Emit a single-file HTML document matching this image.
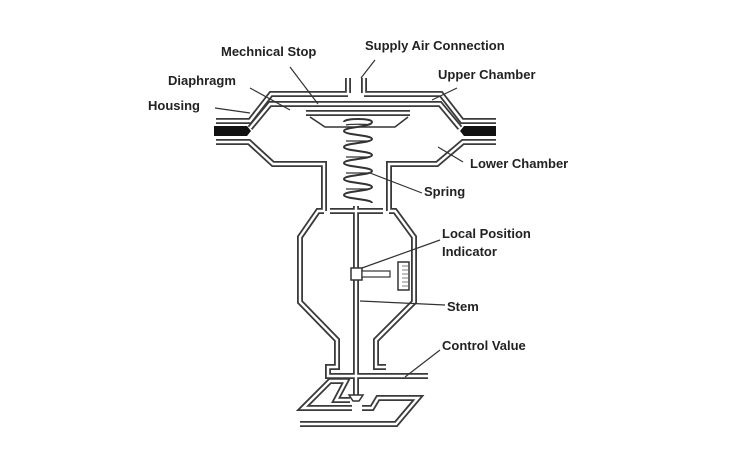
<!DOCTYPE html>
<html><head><style>
html,body{margin:0;padding:0;background:#fff;width:740px;height:455px;overflow:hidden}
svg{display:block}
text{font-family:"Liberation Sans",Arial,sans-serif;font-weight:bold;font-size:13px;fill:#222}
.d{fill:none;stroke:#3a3a3a;stroke-width:6;stroke-linejoin:miter}
.w{fill:none;stroke:#fff;stroke-width:2.4;stroke-linejoin:miter}
.l{fill:none;stroke:#333;stroke-width:1.2}
</style></head><body>
<svg width="740" height="455" viewBox="0 0 740 455">
<defs>
<g id="body">
 <path d="M348,78 V93 M364,78 V93"/>
 <path d="M216,121 H250 L271,94 H348 M364,94 H441 L462,121 H496"/>
 <path d="M250,128 L270,104 H440 L460,128"/>
 <path d="M216,142 H249 L273,164 H324 V211 M496,142 H463 L437,164 H389 V211"/>
 <path d="M324,211 H318 L300,237 V302 L337,340 V367 H328 V376 H428"/>
 <path d="M389,211 H395 L414,237 V302 L376,340 V367 H386"/>
 <path d="M330,211 H383"/>
 <path d="M306,113 H410"/>
 <path d="M350,400 H336 L346,381 H330 L303,408 H352"/>
 <path d="M362,408 H372 L378,398 H418 L396,424 H300"/>
 <path d="M356,206 V395"/>
</g>
</defs>
<use href="#body" class="d"/>
<use href="#body" class="w"/>
<path d="M214,126 H247 L251,131 L247,136 H214 Z" fill="#111"/>
<path d="M496,126 H464 L460,131 L464,136 H496 Z" fill="#111"/>
<path d="M310,117 L325,127 H395 L408,117" fill="none" stroke="#333" stroke-width="1.5"/>
<path d="M349,395 H363 L359,401 H353 Z" fill="#fff" stroke="#333" stroke-width="1.5"/>
<g fill="none" stroke="#333" stroke-width="2">
<path d="M344,122 C344,118 372,118 372,122 C372,127 344,127 344,131 C344,135 372,135 372,139 C372,143 344,143 344,147 C344,151 372,151 372,155 C372,159 344,159 344,163 C344,167 372,167 372,171 C372,175 344,175 344,179 C344,183 372,183 372,187 C372,191 344,191 344,195 C344,199 372,199 372,203"/>
<path d="M346,125 C350,124 368,124 370,125 M346,141 H370 M346,157 H370 M346,173 H370 M346,189 H370" stroke-width="1.2"/>
</g>
<rect x="351" y="268" width="11" height="12" fill="#fff" stroke="#333" stroke-width="1.5"/>
<rect x="362" y="271" width="28" height="6" fill="#fff" stroke="#333" stroke-width="1.2"/>
<rect x="398" y="262" width="11" height="28" fill="#fff" stroke="#333" stroke-width="1.5"/>
<path d="M402,266 H408 M402,270 H408 M402,274 H408 M402,278 H408 M402,282 H408 M402,286 H408" stroke="#555" stroke-width="0.8"/>
<g class="l">
<path d="M290,67 L318,104"/>
<path d="M375,60 L361,78"/>
<path d="M250,88 L290,110"/>
<path d="M215,108 L250,113"/>
<path d="M457,88 L432,100"/>
<path d="M463,162 L438,147"/>
<path d="M422,193 L370,173"/>
<path d="M440,240 L362,268"/>
<path d="M445,305 L360,301"/>
<path d="M440,350 L405,377"/>
</g>
<text x="221" y="56">Mechnical Stop</text>
<text x="365" y="50">Supply Air Connection</text>
<text x="168" y="85">Diaphragm</text>
<text x="438" y="79">Upper Chamber</text>
<text x="148" y="110">Housing</text>
<text x="470" y="168">Lower Chamber</text>
<text x="424" y="196">Spring</text>
<text x="442" y="238">Local Position</text>
<text x="442" y="256">Indicator</text>
<text x="447" y="311">Stem</text>
<text x="442" y="350">Control Value</text>
</svg>
</body></html>
